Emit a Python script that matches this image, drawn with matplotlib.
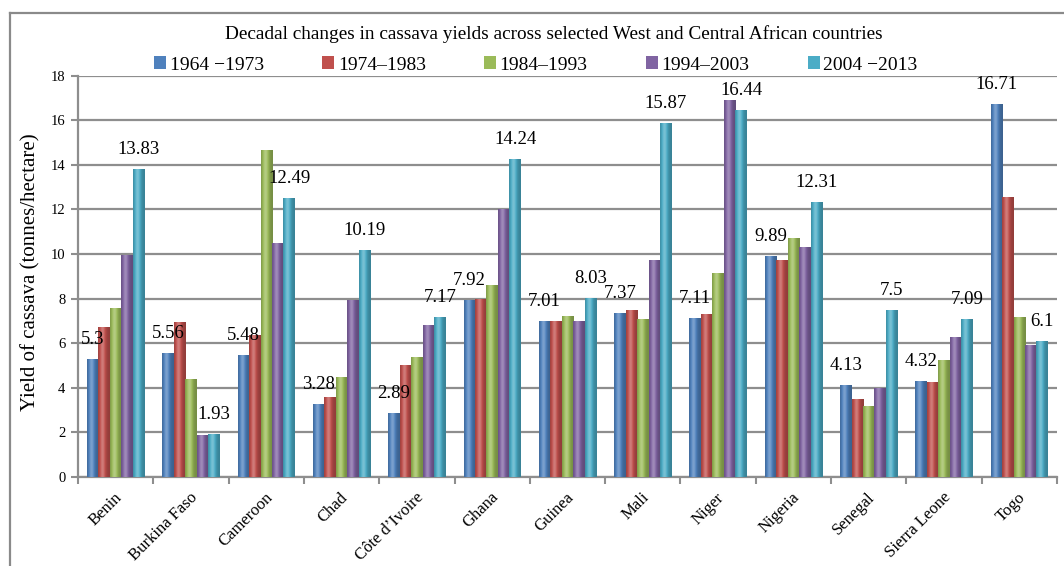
import numpy as np
import matplotlib
matplotlib.use("Agg")
import matplotlib.pyplot as plt
from matplotlib.colors import to_rgb
from matplotlib.patches import Patch
from matplotlib.lines import Line2D
from matplotlib.transforms import ScaledTranslation

plt.rcParams['font.family'] = ['Liberation Serif', 'DejaVu Serif']

countries = ["Benin", "Burkina Faso", "Cameroon", "Chad", "Côte d’Ivoire", "Ghana",
             "Guinea", "Mali", "Niger", "Nigeria", "Senegal", "Sierra Leone", "Togo"]
periods = ["1964 \u22121973", "1974\u20131983", "1984\u20131993", "1994\u20132003", "2004 \u22122013"]

y1964 = [5.30, 5.56, 5.48, 3.28, 2.89, 7.92, 7.01, 7.37, 7.11, 9.89, 4.13, 4.32, 16.71]
y1974 = [6.72, 6.95, 6.35, 3.58, 5.00, 7.96, 6.98, 7.47, 7.29, 9.75, 3.48, 4.26, 12.55]
y1984 = [7.57, 4.41, 14.68, 4.48, 5.38, 8.63, 7.20, 7.09, 9.16, 10.72, 3.18, 5.26, 7.17]
y1994 = [9.95, 1.90, 10.50, 7.92, 6.83, 12.00, 6.98, 9.71, 16.92, 10.31, 4.00, 6.29, 5.90]
y2004 = [13.83, 1.93, 12.49, 10.19, 7.17, 14.24, 8.03, 15.87, 16.44, 12.31, 7.50, 7.09, 6.10]

series = [y1964, y1974, y1984, y1994, y2004]
colors = ["#4F81BD", "#C0504D", "#9BBB59", "#8064A2", "#4BACC6"]
labelled = {0, 4}  # first and last decade carry value labels

fig = plt.figure(figsize=(10.64, 5.66), dpi=100)
ax = fig.add_axes([0.0733, 0.1572, 0.9201, 0.7094])

x = np.arange(len(countries))
width = 0.152
grid_col = "#8e8e8e"

# horizontal shading profile for the bevelled bars
t = np.linspace(0, 1, 64)
profile = 0.76 + 0.42 * np.exp(-((t - 0.38) / 0.28) ** 2)


def shaded(color):
    base = np.array(to_rgb(color))
    rows = []
    for f in profile:
        if f >= 1:
            c = base + (1 - base) * (f - 1) * 1.4
        else:
            c = base * f
        rows.append(np.clip(c, 0, 1))
    return np.array(rows)[None, :, :]


for i, (vals, col) in enumerate(zip(series, colors)):
    pos = x + (i - 2) * width
    bars = ax.bar(pos, vals, width=width, color=col, edgecolor="none", zorder=3)
    img = shaded(col)
    for b in bars:
        x0, w, h = b.get_x(), b.get_width(), b.get_height()
        im = ax.imshow(img, extent=(x0, x0 + w, 0, h), aspect="auto",
                       interpolation="bilinear", zorder=3.5)
        im.set_clip_path(b)
    if i in labelled:
        for px, v in zip(pos, vals):
            ax.annotate(f"{v:g}", (px, v), xytext=(0, 14), textcoords="offset points",
                        ha="center", va="center", fontsize=13.5, color="black", zorder=5)

ax.set_xlim(-0.5, len(countries) - 0.5)
ax.set_ylim(0, 18)
ax.set_yticks(np.arange(0, 19, 2))
ax.tick_params(axis="y", labelsize=10.5, length=5, width=1.5, color=grid_col, pad=4)
ax.yaxis.grid(True, color=grid_col, linewidth=1.6, zorder=0)
ax.set_axisbelow(True)

ax.set_xticks(np.arange(-0.5, len(countries), 1.0))
ax.set_xticklabels([])
ax.tick_params(axis="x", length=5, width=1.5, color=grid_col)
ax.set_xticks(x, minor=True)
ax.set_xticklabels(countries, minor=True, rotation=45, ha="right", va="center",
                   rotation_mode="anchor", fontsize=12)
ax.tick_params(axis="x", which="minor", length=0, pad=13)
shift = ScaledTranslation(4 / 100, 0, fig.dpi_scale_trans)
for lbl in ax.get_xticklabels(minor=True):
    lbl.set_transform(lbl.get_transform() + shift)

for side in ("top", "right"):
    ax.spines[side].set_visible(False)
for side in ("left", "bottom"):
    ax.spines[side].set_color(grid_col)
    ax.spines[side].set_linewidth(1.6)

fig.text(553.5 / 1064, 1 - 34 / 566,
         "Decadal changes in cassava yields across selected West and Central African countries",
         ha="center", va="center", fontsize=13.9)
fig.text(31 / 1064, 1 - 272 / 566, "Yield of cassava (tonnes/hectare)",
         rotation=90, ha="center", va="center", fontsize=15)

handles = [Patch(facecolor=c, edgecolor="none") for c in colors]
fig.legend(handles, periods, loc="center", bbox_to_anchor=(536 / 1064, 1 - 65 / 566),
           ncol=5, frameon=False, fontsize=14, handlelength=0.6, handleheight=0.6,
           handletextpad=0.2, columnspacing=3.0, borderaxespad=0)

# outer chart frame
fig.add_artist(Line2D([10 / 1064, 10 / 1064], [0, 1 - 13 / 566], transform=fig.transFigure,
                      color="#8a8a8a", linewidth=1.6))
fig.add_artist(Line2D([10 / 1064, 1], [1 - 13 / 566, 1 - 13 / 566], transform=fig.transFigure,
                      color="#8a8a8a", linewidth=1.6))

fig.savefig("out.png", dpi=100)
